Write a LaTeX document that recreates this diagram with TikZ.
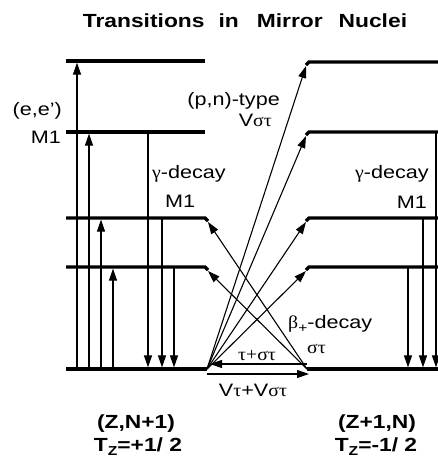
\documentclass[tikz,border=0pt]{standalone}
\usepackage{fontspec}
\setmainfont{Liberation Sans}[FakeStretch=1.2]
\newfontfamily\gr{Liberation Serif}[FakeStretch=1.1]
\usetikzlibrary{arrows.meta}
\newcommand{\sub}[1]{\raisebox{-4pt}{\fontsize{13}{13}\selectfont #1}}
\begin{document}
\begin{tikzpicture}[x=1pt,y=-1pt,
  lvl/.style={line width=3.2pt},
  arr/.style={line width=1.1pt,-{Triangle[length=12pt,width=8pt]}},
  lab/.style={font=\fontsize{18}{20}\selectfont, inner sep=0pt},
  blab/.style={font=\fontsize{19}{21}\selectfont\bfseries, inner sep=0pt}]
\useasboundingbox (0,0) rectangle (438,459);

% title
\node[blab] (title) at (245,21)
  {Transitions\hspace{14pt}in\hspace{18pt}Mirror\hspace{16pt}Nuclei};

% left levels
\draw[lvl] (66,61) -- (205,61);
\draw[lvl] (66,132) -- (205,132);
\draw[lvl] (66,218) -- (205,218) -- (208,221);
\draw[lvl] (66,267) -- (205,267) -- (208,270);
\draw[lvl] (66,369) -- (207,369);
% right levels
\draw[lvl] (306,65) -- (309,62) -- (440,62);
\draw[lvl] (306,135) -- (309,132) -- (440,132);
\draw[lvl] (306,221) -- (309,218) -- (440,218);
\draw[lvl] (306,270) -- (309,267) -- (440,267);
\draw[lvl] (307,369) -- (440,369);

% coordinates
\coordinate (gL) at (207,369);
\coordinate (gR) at (307,369);
\coordinate (R1) at (306,66);
\coordinate (R2) at (306,136);
\coordinate (R3) at (306,222);
\coordinate (R4) at (306,271);
\coordinate (L3) at (208,222);
\coordinate (L4) at (208,271);

% left up arrows
\foreach \n/\x/\y in {u1/77/62.6,u2/89/133.6,u3/101/219.6,u4/113/268.6}{
  \coordinate (\n b) at (\x,367.4);
  \coordinate (\n t) at (\x,\y);
  \draw[arr] (\n b) -- (\n t);
}
% left down arrows
\foreach \n/\x/\y in {d1/148/132,d2/162/218,d3/174/267}{
  \coordinate (\n t) at (\x,\y);
  \coordinate (\n b) at (\x,367.4);
  \draw[arr] (\n t) -- (\n b);
}
% right down arrows
\foreach \n/\x/\y in {e1/408/267,e2/423/218,e3/436/132}{
  \coordinate (\n t) at (\x,\y);
  \coordinate (\n b) at (\x,367.4);
  \draw[arr] (\n t) -- (\n b);
}

% diagonal arrows
\draw[arr] (gL) -- (R1);
\draw[arr] (gL) -- (R2);
\draw[arr] (gL) -- (R3);
\draw[arr] (gL) -- (R4);
\draw[arr] (gR) -- (L3);
\draw[arr] (gR) -- (L4);

% horizontal arrows
\coordinate (hA) at (307,364);
\coordinate (hB) at (210,364);
\coordinate (hC) at (207,374);
\coordinate (hD) at (309,374);
\draw[arr] (hA) -- (hB);
\draw[arr] (hC) -- (hD);

% labels
\node[lab,anchor=base east] (ee) at (62,115) {(e,e')};
\node[lab,anchor=base east] (m1a) at (61,143) {M1};
\node[lab,anchor=base east] (pn) at (280,105) {(p,n)-type};
\node[lab,anchor=base east] (vst) at (272,126) {V{\gr στ}};
\node[lab,anchor=base west] (gdl) at (152,178) {{\gr γ}-decay};
\node[lab,anchor=base west] (m1l) at (165,207) {M1};
\node[lab,anchor=base east] (gdr) at (429,178) {{\gr γ}-decay};
\node[lab,anchor=base east] (m1r) at (427,208) {M1};
\node[lab,anchor=base west] (bd) at (288,328) {{\gr β}\sub{+}-decay};
\node[lab,anchor=base west] (st) at (307,353) {{\gr στ}};
\node[lab,anchor=base] (tst) at (257,360) {{\gr τ+στ}};
\node[lab,anchor=base] (vtv) at (253,396) {V{\gr τ}+V{\gr στ}};
\node[blab,anchor=base] (zl) at (136,428) {(Z,N+1)};
\node[blab,anchor=base] (tl) at (138,451) {T\sub{Z}=+1/ 2};
\node[blab,anchor=base] (zr) at (377,428) {(Z+1,N)};
\node[blab,anchor=base] (tr) at (376,451) {T\sub{Z}=-1/ 2};
\end{tikzpicture}
\end{document}
